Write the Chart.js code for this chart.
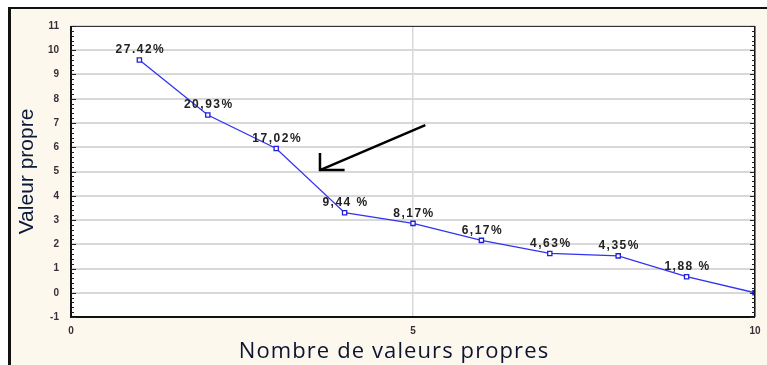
<!DOCTYPE html>
<html>
<head>
<meta charset="utf-8">
<script src="https://cdn.jsdelivr.net/npm/chart.js@4.4.0/dist/chart.umd.min.js"></script>
<style>
    html, body { margin: 0; padding: 0; background: #fff; }
    #wrap { width: 767px; height: 365px; }
</style>
</head>
<body>
<div id="wrap"><canvas id="screeChart" width="767" height="365"></canvas></div>
<script>
// scree plot data
var factorNums = [1, 2, 3, 4, 5, 6, 7, 8, 9, 10];
var eigenValues = [9.6, 7.33, 5.95, 3.3, 2.86, 2.16, 1.62, 1.52, 0.66, 0];
var pctLabels = ['27.42%', '20,93%', '17,02%', '9,44 %', '8,17%', '6,17%', '4,63%', '4,35%', '1,88 %'];
var xTicks = [0, 5, 10];
var yMin = -1, yMax = 11;
var xTitle = 'Nombre de valeurs propres';

// arrow pointing at the elbow, in data units
var arrowShaft = [[5.18, 6.91], [3.64, 5.06]];
var arrowHead = [[3.64, 5.76], [3.64, 5.06], [4.0, 5.06]];

var cream = '#fdf8ee';

var pointData = [];
for (var i = 0; i < factorNums.length; i++) {
    pointData.push({x: factorNums[i], y: eigenValues[i]});
}

var pointFill = eigenValues.map(function (v, i) {
    return i === eigenValues.length - 1 ? '#2020d8' : '#ffffff';
});

var framePlugin = {
    id: 'frame',
    beforeDraw: function (chart) {
        var ctx = chart.ctx, a = chart.chartArea;
        ctx.save();
        ctx.fillStyle = '#fff';
        ctx.fillRect(0, 0, chart.width, chart.height);
        ctx.fillStyle = cream;
        ctx.fillRect(11, 9, chart.width - 11, chart.height - 9);
        ctx.fillStyle = '#111';
        ctx.fillRect(8, 7, 3, chart.height - 7);
        ctx.fillRect(8, 7, chart.width - 8, 2);
        ctx.fillStyle = '#fff';
        ctx.fillRect(a.left, a.top, a.right - a.left, a.bottom - a.top);
        ctx.restore();
    },
    afterDraw: function (chart) {
        var ctx = chart.ctx, a = chart.chartArea;
        var xs = chart.scales.x, ys = chart.scales.y;
        ctx.save();

        // plot box
        ctx.strokeStyle = '#333';
        ctx.lineWidth = 1;
        ctx.strokeRect(a.left + 0.5, a.top + 0.5, a.right - a.left - 1, a.bottom - a.top - 1);
        ctx.fillStyle = '#111';
        ctx.fillRect(a.left - 1, a.top, 2, a.bottom - a.top + 1);
        ctx.fillRect(a.left - 1, a.bottom - 1, a.right - a.left + 1, 2);
        ctx.fillRect(a.right - 1, a.top, 1.5, a.bottom - a.top);

        // minor ticks inside left and right borders
        ctx.strokeStyle = '#222';
        ctx.lineWidth = 1;
        for (var k = 0; k <= (yMax - yMin) * 5; k++) {
            var v = yMin + k * 0.2;
            var py = Math.round(ys.getPixelForValue(v)) + 0.5;
            var len = (k % 5 === 0) ? 5 : 3;
            ctx.beginPath();
            ctx.moveTo(a.left, py);
            ctx.lineTo(a.left + len, py);
            ctx.moveTo(a.right, py);
            ctx.lineTo(a.right - len, py);
            ctx.stroke();
        }

        // percentage labels above the points
        var meta = chart.getDatasetMeta(0);
        ctx.font = 'bold 12px "Liberation Sans", Arial, sans-serif';
        ctx.letterSpacing = '1.5px';
        ctx.fillStyle = '#222';
        ctx.textAlign = 'center';
        ctx.textBaseline = 'middle';
        for (var j = 0; j < pctLabels.length; j++) {
            var pt = meta.data[j];
            ctx.fillText(pctLabels[j], pt.x + 1, pt.y - 10);
        }

        // x axis title, sits a little left of the plot centre
        ctx.font = '500 22px "Open Sans", sans-serif';
        ctx.letterSpacing = '1.1px';
        ctx.fillStyle = '#0c1430';
        ctx.textBaseline = 'alphabetic';
        ctx.fillText(xTitle, (a.left + a.right) / 2 - 19, 358);
        ctx.letterSpacing = '0px';

        // arrow
        ctx.strokeStyle = '#000';
        ctx.lineWidth = 2.5;
        ctx.lineCap = 'butt';
        ctx.beginPath();
        ctx.moveTo(xs.getPixelForValue(arrowShaft[0][0]), ys.getPixelForValue(arrowShaft[0][1]));
        ctx.lineTo(xs.getPixelForValue(arrowShaft[1][0]), ys.getPixelForValue(arrowShaft[1][1]));
        ctx.stroke();
        ctx.beginPath();
        for (var h = 0; h < arrowHead.length; h++) {
            var hx = xs.getPixelForValue(arrowHead[h][0]);
            var hy = ys.getPixelForValue(arrowHead[h][1]);
            if (h === 0) ctx.moveTo(hx, hy); else ctx.lineTo(hx, hy);
        }
        ctx.stroke();
        ctx.restore();
    }
};

var screeChart = new Chart(document.getElementById('screeChart').getContext('2d'), {
    type: 'scatter',
    data: {
        datasets: [{
            data: pointData,
            showLine: true,
            borderColor: '#3232f2',
            borderWidth: 1.3,
            pointStyle: 'rect',
            pointRadius: 3,
            pointBorderWidth: 1.3,
            pointBorderColor: '#2020d8',
            pointBackgroundColor: pointFill,
            tension: 0
        }]
    },
    options: {
        responsive: false,
        animation: false,
        devicePixelRatio: 1,
        layout: { padding: { top: 26, right: 12, left: 0, bottom: 0 } },
        plugins: {
            legend: { display: false },
            tooltip: { enabled: false }
        },
        scales: {
            x: {
                type: 'linear',
                min: 0,
                max: 10,
                afterBuildTicks: function (scale) {
                    scale.ticks = xTicks.map(function (v) { return {value: v}; });
                },
                afterFit: function (scale) {
                    scale.height = 48;
                    scale.paddingLeft = 0;
                    scale.paddingRight = 0;
                },
                grid: { color: '#d8d8d8', lineWidth: 1.5, drawTicks: false },
                border: { display: false },
                ticks: {
                    padding: 8,
                    color: '#3a2e36',
                    font: { family: 'Liberation Sans', size: 10, weight: 'bold' }
                }
            },
            y: {
                min: yMin,
                max: yMax,
                ticks: {
                    stepSize: 1,
                    padding: 12,
                    color: '#3a2e36',
                    font: { family: 'Liberation Sans', size: 10, weight: 'bold' }
                },
                afterFit: function (scale) {
                    scale.width = 71;
                    scale.paddingTop = 0;
                    scale.paddingBottom = 0;
                },
                grid: { color: '#d8d8d8', lineWidth: 2, drawTicks: false },
                border: { display: false },
                title: {
                    display: true,
                    text: 'Valeur propre',
                    color: '#0c1a3a',
                    font: { family: 'Liberation Sans', size: 21 },
                    padding: { top: 15, bottom: 0 }
                }
            }
        }
    },
    plugins: [framePlugin]
});
</script>
</body>
</html>
